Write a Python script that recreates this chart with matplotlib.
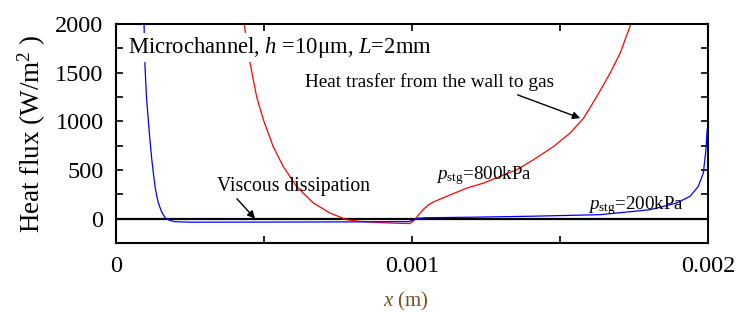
import matplotlib.pyplot as plt
from matplotlib.ticker import MultipleLocator, FixedLocator

plt.rcParams['font.family'] = 'Liberation Serif'
plt.rcParams['mathtext.fontset'] = 'custom'
plt.rcParams['mathtext.rm'] = 'Liberation Serif'
plt.rcParams['mathtext.it'] = 'Liberation Serif:italic'

# p_stg = 200 kPa (blue curve), x in m, heat flux in W/m^2
x_200 = [0.0000940, 0.0000980, 0.000103, 0.000109, 0.000115, 0.000121, 0.000127,
         0.000132, 0.000138, 0.000143, 0.000154, 0.000166, 0.000180, 0.000199,
         0.00025, 0.0005, 0.0008, 0.00099, 0.00102, 0.00105, 0.0012, 0.0014,
         0.001635, 0.001804, 0.001894, 0.001939, 0.001967, 0.001984, 0.001993,
         0.001997, 0.002, 0.002]
q_200 = [2100, 1559, 1250, 1015, 800, 605, 450,
         328, 230, 164, 70, 10, -15, -31,
         -36, -35, -33, -30, 5, 10, 15, 25,
         41, 92, 161, 229, 331, 468, 708,
         920, 920, -400]

# p_stg = 800 kPa (red curve)
x_800 = [0.000430, 0.000436, 0.000453, 0.000475, 0.000498, 0.000531, 0.000565,
         0.000610, 0.000667, 0.000723, 0.000779, 0.000824, 0.000892, 0.000959,
         0.000993, 0.00101, 0.001021, 0.001038, 0.001055, 0.001072, 0.001128,
         0.001185, 0.001241, 0.001297, 0.001354, 0.001410, 0.001478, 0.001534,
         0.001579, 0.001624, 0.001669, 0.001703, 0.001736, 0.00175]
q_800 = [2100, 1938, 1597, 1254, 1015, 741, 536,
         331, 161, 58, -10, -28, -40, -48,
         -50, -10, 35, 95, 140, 172, 243,
         314, 365, 434, 503, 605, 741, 880,
         1030, 1254, 1494, 1700, 1972, 2100]

fig = plt.figure(figsize=(7.36, 3.13), dpi=100)
ax = fig.add_axes([0.1576, 0.2236, 0.8044, 0.6997])

ax.axhline(0, color='black', lw=1.6, zorder=1)
ax.plot(x_800, q_800, color='#ff0000', lw=0.9, zorder=2)
ax.plot(x_200, q_200, color='#0000ff', lw=0.9, zorder=3)

ax.set_xlim(0, 0.002)
ax.set_ylim(-250, 2000)
ax.xaxis.set_major_locator(FixedLocator([0, 0.001, 0.002]))
ax.set_xticklabels(['0', '0.001', '0.002'])
ax.xaxis.set_minor_locator(MultipleLocator(0.0005))
ax.yaxis.set_major_locator(FixedLocator([0, 500, 1000, 1500, 2000]))
ax.yaxis.set_minor_locator(MultipleLocator(250))
ax.tick_params(which='both', direction='in', top=True, right=True, width=1.2)
ax.tick_params(which='major', length=5, labelsize=17.5, pad=9)
ax.tick_params(which='minor', length=5)
for s in ax.spines.values():
    s.set_linewidth(1.5)

ax.set_ylabel('Heat flux (W/m$^2$ )', fontsize=19.5, labelpad=5)
ax.set_xlabel('$x$ (m)', fontsize=15, color='#7b5020')
ax.xaxis.set_label_coords(0.49, -0.215)

ax.text(0.00004, 1760, 'Microchannel, $h$ =10\u03bcm, $L$=2mm', fontsize=16.3,
        va='center', ha='left', zorder=5,
        bbox=dict(facecolor='white', edgecolor='none', pad=1.5))
ax.text(0.00064, 1400, 'Heat trasfer from the wall to gas', fontsize=13.9,
        va='center', ha='left', zorder=5)
ax.text(0.00034, 330, 'Viscous dissipation', fontsize=14.1,
        va='center', ha='left', zorder=5)
ax.text(0.00108, 445, r'$p_{\rm stg}$=800kPa', fontsize=13.7,
        va='center', ha='left', zorder=5)
ax.text(0.001595, 135, r'$p_{\rm stg}$=200kPa', fontsize=13.7,
        va='center', ha='left', zorder=5)

arrow = dict(arrowstyle='-|>', color='black', lw=1.0, mutation_scale=11)
ax.annotate('', xy=(0.000476, -20), xytext=(0.000402, 226), arrowprops=arrow)
ax.annotate('', xy=(0.001577, 1023), xytext=(0.001348, 1282), arrowprops=arrow)

fig.savefig('out.png', dpi=100)
